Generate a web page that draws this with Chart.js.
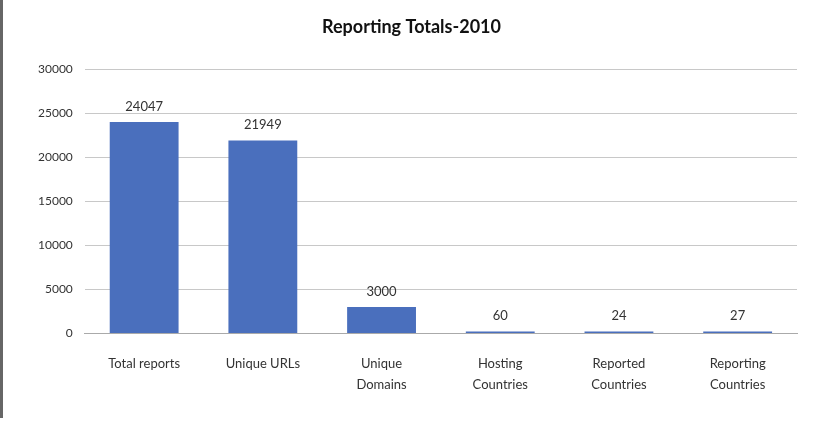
<!DOCTYPE html>
<html lang="en">
<head>
    <meta charset="utf-8">
    <title>Reporting Totals-2010</title>
    <script src="https://cdn.jsdelivr.net/npm/chart.js"></script>
    <style>
        html, body { margin: 0; padding: 0; background: #fff; }
        #wrap { position: absolute; left: 0; top: 0; width: 817px; height: 418px; border-left: 3px solid #666; box-sizing: border-box; }
    </style>
</head>
<body>
    <div id="wrap"><canvas id="myChart" width="814" height="418"></canvas></div>

    <script>
        // data
        const categories = [['Total reports'], ['Unique URLs'], ['Unique', 'Domains'], ['Hosting', 'Countries'], ['Reported', 'Countries'], ['Reporting', 'Countries']];
        const totals = [24047, 21949, 3000, 60, 24, 27];
        const yTicks = [0, 5000, 10000, 15000, 20000, 25000, 30000];

        // numbers above each bar
        const valueLabels = {
            id: 'valueLabels',
            afterDatasetsDraw(chart) {
                const ctx = chart.ctx;
                ctx.save();
                ctx.font = '13px Lato, "DejaVu Sans", sans-serif';
                ctx.fillStyle = '#333';
                ctx.textAlign = 'center';
                ctx.textBaseline = 'bottom';
                chart.getDatasetMeta(0).data.forEach((bar, i) => {
                    ctx.fillText(String(totals[i]), bar.x, bar.y - 9);
                });
                ctx.restore();
            }
        };

        const ctx = document.getElementById('myChart').getContext('2d');
        const myChart = new Chart(ctx, {
            type: 'bar',
            data: {
                labels: categories,
                datasets: [{
                    data: totals,
                    backgroundColor: '#4a6fbd',
                    categoryPercentage: 1,
                    barPercentage: 0.58,
                    minBarLength: 2
                }]
            },
            options: {
                responsive: false,
                animation: false,
                layout: { padding: { left: 23, right: 20, top: 8, bottom: 11 } },
                plugins: {
                    legend: { display: false },
                    tooltip: { enabled: false },
                    title: {
                        display: true,
                        text: 'Reporting Totals-2010',
                        color: '#111',
                        font: { family: 'Lato, "Open Sans", sans-serif', size: 18, weight: 'bold' },
                        padding: { top: 8, bottom: 32 }
                    }
                },
                scales: {
                    x: {
                        grid: { display: false },
                        border: { color: '#aaa' },
                        ticks: {
                            color: '#333',
                            font: { family: 'Lato, "DejaVu Sans", sans-serif', size: 13, lineHeight: 1.6 },
                            padding: 12,
                            maxRotation: 0
                        }
                    },
                    y: {
                        min: 0,
                        max: 30000,
                        afterBuildTicks: axis => { axis.ticks = yTicks.map(v => ({ value: v })); },
                        grid: { color: '#c8c8c8', drawTicks: false },
                        border: { display: false },
                        ticks: {
                            color: '#333',
                            font: { family: 'Lato, "DejaVu Sans", sans-serif', size: 12 },
                            padding: 12,
                            callback: v => String(v)
                        }
                    }
                }
            },
            plugins: [valueLabels]
        });
    </script>
</body>
</html>
